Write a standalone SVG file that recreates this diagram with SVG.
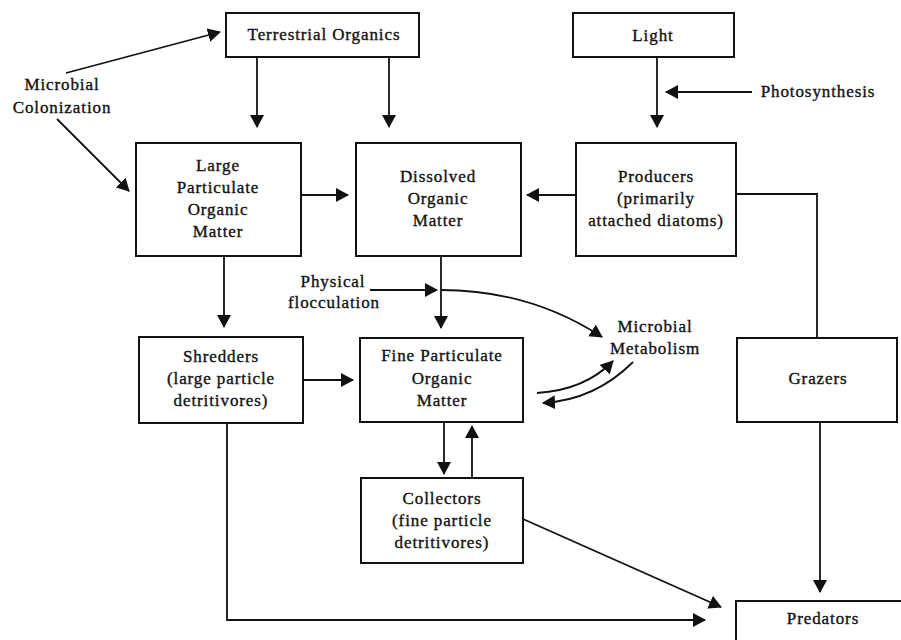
<svg xmlns="http://www.w3.org/2000/svg" width="901" height="640" viewBox="0 0 901 640">
<defs>
<style>
.box{fill:#fff;stroke:#111;stroke-width:2}
.t{font-family:"Liberation Serif","Times New Roman",serif;font-size:17px;letter-spacing:0.9px;fill:#111;stroke:#111;stroke-width:0.35;text-anchor:middle}
.c{fill:none;stroke:#111;stroke-width:1.8}
.a{marker-end:url(#ah)}
</style>
<marker id="ah" markerUnits="userSpaceOnUse" markerWidth="13" markerHeight="14" refX="12" refY="7" orient="auto">
<path d="M0,0 L13,7 L0,14 z" fill="#111"/>
</marker>
</defs>
<rect width="901" height="640" fill="#fff"/>

<g id="connectors">
<line class="c a" x1="66" y1="73" x2="220" y2="32"/>
<line class="c a" x1="57" y1="119" x2="129" y2="191"/>
<line class="c a" x1="257" y1="57" x2="257" y2="127"/>
<line class="c a" x1="389" y1="57" x2="389" y2="127"/>
<line class="c a" x1="657" y1="57" x2="657" y2="127"/>
<line class="c a" x1="752" y1="92" x2="666" y2="92"/>
<line class="c a" x1="301" y1="195" x2="348" y2="195"/>
<line class="c a" x1="576" y1="195" x2="527" y2="195"/>
<polyline class="c" points="736,194 817,194 817,338"/>
<line class="c a" x1="224" y1="256" x2="224" y2="327"/>
<line class="c a" x1="441" y1="256" x2="441" y2="328"/>
<line class="c a" x1="370" y1="290" x2="437" y2="290"/>
<path class="c a" d="M441,290 Q530,290 602,337"/>
<line class="c a" x1="303" y1="380" x2="353" y2="380"/>
<path class="c a" d="M537,393 Q585,390 613,361"/>
<path class="c a" d="M633,362 Q595,400 543,403"/>
<line class="c a" x1="444" y1="422" x2="444" y2="474"/>
<line class="c a" x1="472" y1="478" x2="472" y2="426"/>
<line class="c a" x1="523" y1="519" x2="721" y2="607"/>
<polyline class="c a" points="227,423 227,620 705,620"/>
<line class="c a" x1="820" y1="422" x2="820" y2="592"/>
</g>

<g id="terrestrial">
<rect class="box" x="226" y="13" width="193" height="44"/>
<text class="t" x="324" y="40">Terrestrial Organics</text>
</g>
<g id="light">
<rect class="box" x="573" y="13" width="161" height="44"/>
<text class="t" x="653" y="41">Light</text>
</g>
<g id="lpom">
<rect class="box" x="136" y="143" width="165" height="113"/>
<text class="t" x="218" y="171">Large</text>
<text class="t" x="218" y="193">Particulate</text>
<text class="t" x="218" y="215">Organic</text>
<text class="t" x="218" y="237">Matter</text>
</g>
<g id="dom">
<rect class="box" x="356" y="143" width="165" height="113"/>
<text class="t" x="438" y="182">Dissolved</text>
<text class="t" x="438" y="204">Organic</text>
<text class="t" x="438" y="226">Matter</text>
</g>
<g id="producers">
<rect class="box" x="576" y="143" width="160" height="113"/>
<text class="t" x="656" y="182">Producers</text>
<text class="t" x="656" y="204">(primarily</text>
<text class="t" x="656" y="226">attached diatoms)</text>
</g>
<g id="shredders">
<rect class="box" x="139" y="337" width="164" height="86"/>
<text class="t" x="221" y="362">Shredders</text>
<text class="t" x="221" y="384">(large particle</text>
<text class="t" x="221" y="406">detritivores)</text>
</g>
<g id="fpom">
<rect class="box" x="360" y="338" width="163" height="84"/>
<text class="t" x="442" y="361">Fine Particulate</text>
<text class="t" x="442" y="384">Organic</text>
<text class="t" x="442" y="406">Matter</text>
</g>
<g id="grazers">
<rect class="box" x="737" y="338" width="160" height="84"/>
<text class="t" x="818" y="384">Grazers</text>
</g>
<g id="collectors">
<rect class="box" x="361" y="478" width="162" height="85"/>
<text class="t" x="442" y="504">Collectors</text>
<text class="t" x="442" y="526">(fine particle</text>
<text class="t" x="442" y="548">detritivores)</text>
</g>
<g id="predators">
<rect class="box" x="736" y="601" width="175" height="60"/>
<text class="t" x="823" y="624">Predators</text>
</g>
<g id="labels">
<text class="t" x="62" y="90">Microbial</text>
<text class="t" x="62" y="113">Colonization</text>
<text class="t" x="818" y="97">Photosynthesis</text>
<text class="t" x="333" y="287">Physical</text>
<text class="t" x="334" y="308">flocculation</text>
<text class="t" x="655" y="332">Microbial</text>
<text class="t" x="655" y="354">Metabolism</text>
</g>
</svg>
